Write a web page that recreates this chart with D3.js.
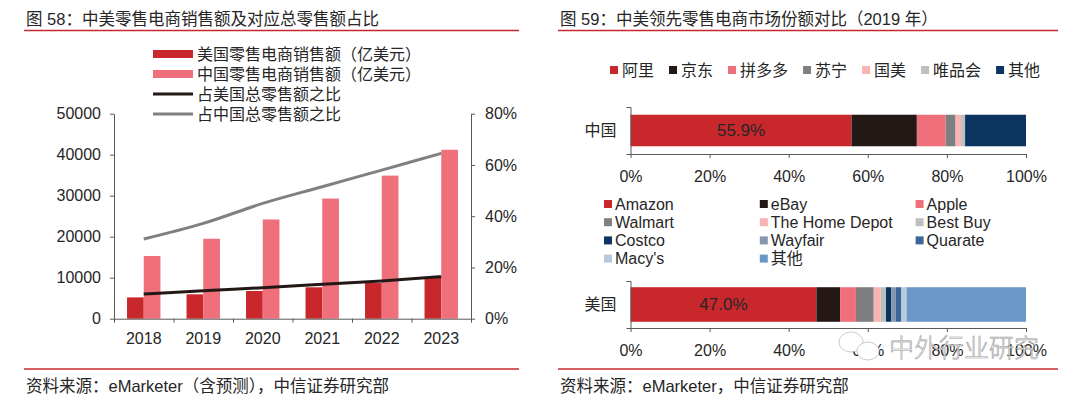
<!DOCTYPE html>
<html>
<head>
<meta charset="utf-8">
<script src="https://cdn.jsdelivr.net/npm/d3@7"></script>
<style>
  body { margin: 0; background: #fff; }
  text { font-family: "Liberation Sans", Arial, "Noto Sans CJK SC", sans-serif; fill: #262626; }
</style>
</head>
<body>
<div id="chart"></div>
<script>
// left chart data (亿美元 / %)
const years = ["2018", "2019", "2020", "2021", "2022", "2023"];
const usSales = [5200, 5950, 6760, 7660, 8700, 10000];
const cnSales = [15300, 19500, 24200, 29300, 34900, 41200];
const usShare = [9.6, 10.9, 12.1, 13.4, 14.7, 16.4];
const cnShare = [31.1, 37.2, 45.0, 51.5, 58.0, 64.5];
const salesTicks = [0, 10000, 20000, 30000, 40000, 50000];
const shareTicks = [0, 20, 40, 60, 80];
const leftLegend = ["美国零售电商销售额（亿美元）", "中国零售电商销售额（亿美元）", "占美国总零售额之比", "占中国总零售额之比"];

// right chart data (%)
const cnPlayers = ["阿里", "京东", "拼多多", "苏宁", "国美", "唯品会", "其他"];
const cnPlayerShares = [55.9, 16.5, 7.3, 2.5, 1.4, 1.0, 15.4];
const usPlayers = ["Amazon", "eBay", "Apple", "Walmart", "The Home Depot", "Best Buy", "Costco", "Wayfair", "Quarate", "Macy's", "其他"];
const usPlayerShares = [47.0, 6.0, 4.0, 4.5, 1.7, 1.4, 1.3, 1.2, 1.4, 1.3, 30.2];
const pctTicks = [0, 20, 40, 60, 80, 100];

const RED = "#c8282c", PINK = "#ef6f7b", BLACK = "#231815", GREY = "#808080";
const cnColors = [RED, BLACK, PINK, "#7f7f7f", "#f8b4b4", "#bfbfbf", "#0c3460"];
const usColors = [RED, BLACK, PINK, "#7f7f7f", "#f8b4b4", "#bfbfbf", "#0c3460", "#8497b0", "#3a6698", "#b9c9dc", "#6a97c6"];
const AXIS = "#595959";

const svg = d3.select("#chart").append("svg")
  .attr("width", 1080).attr("height", 398);
svg.append("rect").attr("width", 1080).attr("height", 398).attr("fill", "#fff");

function styleAxis(g) {
  g.select(".domain").attr("stroke", AXIS);
  g.selectAll(".tick line").attr("stroke", AXIS);
  g.selectAll("text").style("font-size", "16px").attr("fill", "#262626");
}

// ---------- headers / footers ----------
function frame(x0, x1, title, source) {
  svg.append("text").attr("x", x0 + 2).attr("y", 19).attr("dy", "0.35em")
    .style("font-size", "16.5px").text(title);
  svg.append("line").attr("x1", x0).attr("x2", x1).attr("y1", 30.5).attr("y2", 30.5)
    .attr("stroke", "#c8282c").attr("stroke-width", 1.5);
  svg.append("line").attr("x1", x0).attr("x2", x1).attr("y1", 369).attr("y2", 369)
    .attr("stroke", "#c8282c").attr("stroke-width", 1.5);
  svg.append("text").attr("x", x0 + 2).attr("y", 386).attr("dy", "0.35em")
    .style("font-size", "16.5px").text(source);
}
frame(24, 519, "图 58：中美零售电商销售额及对应总零售额占比", "资料来源：eMarketer（含预测），中信证券研究部");
frame(558, 1058, "图 59：中美领先零售电商市场份额对比（2019 年）", "资料来源：eMarketer，中信证券研究部");

// ---------- left chart ----------
const L = { left: 114, right: 471, top: 113.7, bottom: 318.7 };
const x = d3.scaleBand().domain(years).range([L.left, L.right]);
const xSub = d3.scaleBand().domain(["us", "cn"]).range([0, x.bandwidth()])
  .paddingInner(0).paddingOuter(0.78);
const yL = d3.scaleLinear().domain([0, 50000]).range([L.bottom, L.top]);
const yR = d3.scaleLinear().domain([0, 80]).range([L.bottom, L.top]);
const xIdx = d3.scaleLinear().domain([0, years.length]).range([L.left, L.right]);

const left = svg.append("g");

left.selectAll(".us").data(years).join("rect")
  .attr("x", d => x(d) + xSub("us")).attr("width", xSub.bandwidth())
  .attr("y", (d, i) => yL(usSales[i])).attr("height", (d, i) => yL(0) - yL(usSales[i]))
  .attr("fill", RED);
left.selectAll(".cn").data(years).join("rect")
  .attr("x", d => x(d) + xSub("cn")).attr("width", xSub.bandwidth())
  .attr("y", (d, i) => yL(cnSales[i])).attr("height", (d, i) => yL(0) - yL(cnSales[i]))
  .attr("fill", PINK);

const line = arr => d3.line()
  .x((d, i) => x(years[i]) + x.bandwidth() / 2)
  .y(d => yR(d))
  .curve(d3.curveMonotoneX)(arr);
left.append("path").attr("d", line(cnShare)).attr("fill", "none")
  .attr("stroke", GREY).attr("stroke-width", 3);
left.append("path").attr("d", line(usShare)).attr("fill", "none")
  .attr("stroke", BLACK).attr("stroke-width", 3);

left.append("g").attr("transform", `translate(${L.left},0)`)
  .call(d3.axisLeft(yL).tickValues(salesTicks).tickFormat(d3.format("d")).tickSize(4).tickPadding(9).tickSizeOuter(0))
  .call(styleAxis);
left.append("g").attr("transform", `translate(${L.right},0)`)
  .call(d3.axisRight(yR).tickValues(shareTicks).tickFormat(d => d + "%").tickSize(4).tickPadding(10).tickSizeOuter(0))
  .call(styleAxis);
left.append("g").attr("transform", `translate(0,${L.bottom})`)
  .call(d3.axisBottom(xIdx).tickValues(d3.range(years.length + 1)).tickFormat("").tickSize(4).tickSizeOuter(0))
  .call(styleAxis);
left.append("g").attr("transform", `translate(0,${L.bottom})`)
  .call(d3.axisBottom(x).tickSize(0).tickPadding(14))
  .call(styleAxis)
  .call(g => g.select(".domain").remove());

// legend
const lg = left.append("g").attr("transform", "translate(153,54)");
leftLegend.forEach((t, i) => {
  const row = lg.append("g").attr("transform", `translate(0,${i * 20})`);
  if (i < 2) {
    row.append("rect").attr("x", 0).attr("y", -4).attr("width", 40).attr("height", 8)
      .attr("fill", i === 0 ? RED : PINK);
  } else {
    row.append("line").attr("x1", 0).attr("x2", 40).attr("y1", 0).attr("y2", 0)
      .attr("stroke", i === 2 ? BLACK : GREY).attr("stroke-width", 3);
  }
  row.append("text").attr("x", 44).attr("dy", "0.35em").style("font-size", "16px").text(t);
});

// ---------- right chart ----------
const xP = d3.scaleLinear().domain([0, 100]).range([630.5, 1026]);

function stackBar(name, shares, colors, top, bottom, pad, label) {
  const band = d3.scaleBand().domain([name]).range([top, bottom]).paddingOuter(pad).paddingInner(0);
  const g = svg.append("g");
  const cum = d3.cumsum(shares);
  g.selectAll("rect").data(shares).join("rect")
    .attr("x", (d, i) => xP(cum[i] - d))
    .attr("width", d => xP(d) - xP(0))
    .attr("y", band(name)).attr("height", band.bandwidth())
    .attr("fill", (d, i) => colors[i]);
  g.append("text").attr("x", xP(shares[0] / 2)).attr("y", band(name) + band.bandwidth() / 2)
    .attr("dy", "0.35em").attr("text-anchor", "middle")
    .style("font-size", "17px").attr("fill", "#5a2f2f").text(label);
  g.append("g").attr("transform", `translate(${xP(0)},0)`)
    .call(d3.axisLeft(band).tickSize(0).tickSizeOuter(4).tickPadding(14))
    .call(styleAxis);
  g.append("g").attr("transform", `translate(0,${bottom})`)
    .call(d3.axisBottom(xP).tickValues(pctTicks).tickFormat(d => d + "%").tickSize(4).tickPadding(13).tickSizeOuter(0))
    .call(styleAxis);
}
stackBar("中国", cnPlayerShares, cnColors, 107, 154, 0.245, "55.9%");
stackBar("美国", usPlayerShares, usColors, 281, 328, 0.18, "47.0%");

// top legend (China players), laid out in a row
let lx = 610;
cnPlayers.forEach((p, i) => {
  const g = svg.append("g").attr("transform", `translate(${lx},70)`);
  g.append("rect").attr("x", 0).attr("y", -4).attr("width", 8).attr("height", 8).attr("fill", cnColors[i]);
  const t = g.append("text").attr("x", 12).attr("dy", "0.35em").style("font-size", "16px").text(p);
  lx += 12 + t.node().getComputedTextLength() + 15;
});

// US legend, 3 columns
usPlayers.forEach((p, i) => {
  const col = i % 3, row = Math.floor(i / 3);
  const g = svg.append("g").attr("transform", `translate(${604 + col * 155.8},${204 + row * 18.2})`);
  g.append("rect").attr("x", 0).attr("y", -4).attr("width", 8).attr("height", 8).attr("fill", usColors[i]);
  g.append("text").attr("x", 11).attr("dy", "0.35em").style("font-size", "16px").text(p);
});

// watermark (outlined, sits over the tick labels as in the source image)
const wm = svg.append("g").attr("fill", "none").attr("stroke", "#b4b4b4").attr("stroke-width", 0.7);
wm.append("ellipse").attr("cx", 851).attr("cy", 342).attr("rx", 12).attr("ry", 10).attr("fill", "#fff");
wm.append("ellipse").attr("cx", 868).attr("cy", 351).attr("rx", 11).attr("ry", 9).attr("fill", "#fff");
wm.append("text").attr("x", 889).attr("y", 348).attr("dy", "0.35em")
  .style("font-size", "25px").style("font-weight", "300")
  .style("fill", "#fff").attr("stroke", "#9a9a9a").attr("stroke-width", 0.6)
  .text("中外行业研究");
</script>
</body>
</html>
